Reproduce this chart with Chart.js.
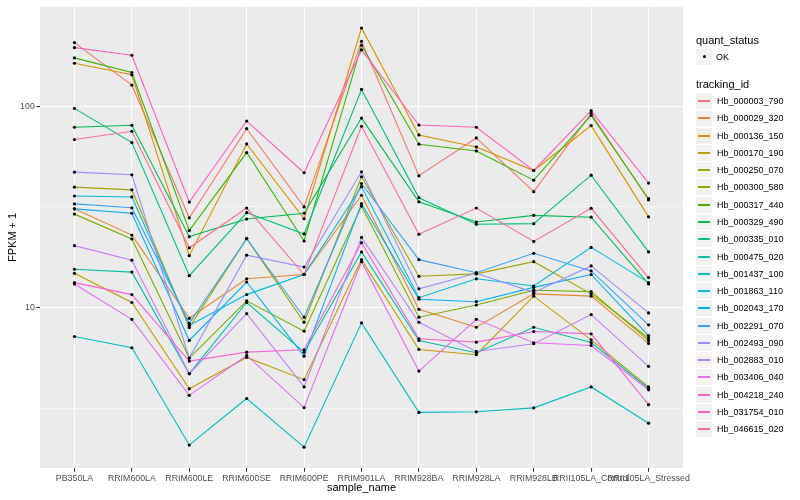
<!DOCTYPE html>
<html>
<head>
<meta charset="utf-8">
<script src="https://cdn.jsdelivr.net/npm/chart.js@4.4.1/dist/chart.umd.min.js"></script>
<style>
  body { margin: 0; background: #fff; }
  #wrap { position: relative; width: 800px; height: 500px; font-family: "Liberation Sans", Arial, sans-serif; color: #000; }
  #legend div { position: absolute; white-space: nowrap; }
  .ttl { font-size: 11px; line-height: 12px; }
  .key { width: 16px; height: 16px; background: #f2f2f2; }
  .lab { font-size: 9px; line-height: 10px; }
</style>
</head>
<body>
<div id="wrap">
  <canvas id="chart" width="800" height="500"></canvas>
  <div id="legend"></div>
</div>
<script>
// sample names on the x axis
const samples = ['PB350LA', 'RRIM600LA', 'RRIM600LE', 'RRIM600SE', 'RRIM600PE', 'RRIM901LA',
  'RRIM928BA', 'RRIM928LA', 'RRIM928LB', 'RRII105LA_Control', 'RRII105LA_Stressed'];

const trackingIds = ['Hb_000003_790', 'Hb_000029_320', 'Hb_000136_150', 'Hb_000170_190', 'Hb_000250_070',
  'Hb_000300_580', 'Hb_000317_440', 'Hb_000329_490', 'Hb_000335_010', 'Hb_000475_020',
  'Hb_001437_100', 'Hb_001863_110', 'Hb_002043_170', 'Hb_002291_070', 'Hb_002493_090',
  'Hb_002883_010', 'Hb_003406_040', 'Hb_004218_240', 'Hb_031754_010', 'Hb_046615_020'];

// FPKM + 1 per sample
const Hb_000003_790 = [206.5, 127, 27.9, 77.3, 31.6, 209.6, 45.1, 69.5, 37.6, 92.0, 34.2];
const Hb_000029_320 = [30.9, 22.9, 8.85, 13.9, 14.6, 36.1, 9.81, 7.99, 11.7, 11.4, 6.64];
const Hb_000136_150 = [163.1, 143, 18.1, 64.9, 27.6, 244, 71.9, 62.7, 47.9, 80.0, 28.2];
const Hb_000170_190 = [14.8, 10.6, 3.96, 5.66, 4.39, 17.3, 6.20, 5.84, 11.4, 6.92, 4.04];
const Hb_000250_070 = [39.6, 38.4, 7.96, 22.0, 8.46, 44.6, 14.3, 14.7, 16.9, 11.7, 7.07];
const Hb_000300_580 = [29.1, 21.9, 5.62, 10.8, 7.64, 31.9, 8.96, 10.3, 12.2, 12.0, 6.87];
const Hb_000317_440 = [173.5, 146.7, 24.1, 58.8, 21.4, 200.2, 64.7, 59.9, 42.9, 89.9, 34.7];
const Hb_000329_490 = [78.5, 80.3, 22.5, 27.5, 29.4, 87.2, 33.5, 26.6, 28.7, 28.1, 13.1];
const Hb_000335_010 = [97.4, 65.9, 14.4, 29.6, 23.2, 120.9, 35.1, 25.9, 26.1, 45.4, 18.9];
const Hb_000475_020 = [15.5, 15.0, 4.70, 10.6, 6.01, 18.9, 6.87, 5.97, 7.99, 6.71, 3.98];
const Hb_001437_100 = [7.19, 6.32, 2.08, 3.54, 2.03, 8.40, 3.02, 3.04, 3.18, 4.04, 2.67];
const Hb_001863_110 = [35.8, 35.4, 8.15, 11.6, 14.6, 39.8, 11.2, 13.9, 12.8, 19.9, 13.3];
const Hb_002043_170 = [30.9, 29.4, 6.87, 13.4, 5.74, 32.8, 11.0, 10.7, 12.6, 14.6, 7.27];
const Hb_002291_070 = [32.7, 31.3, 8.36, 22.0, 8.96, 41.3, 17.3, 14.9, 18.6, 15.2, 8.21];
const Hb_002493_090 = [47.0, 45.6, 5.62, 18.2, 15.9, 47.2, 12.4, 14.8, 11.9, 16.1, 9.41];
const Hb_002883_010 = [20.3, 17.2, 4.70, 9.34, 4.04, 22.3, 8.46, 6.06, 6.62, 9.23, 5.11];
const Hb_003406_040 = [13.1, 8.75, 3.67, 5.79, 3.19, 16.9, 4.84, 8.75, 6.69, 6.49, 3.91];
const Hb_004218_240 = [13.3, 11.6, 5.43, 6.01, 6.18, 21.0, 7.00, 6.74, 7.61, 7.41, 3.30];
const Hb_031754_010 = [195, 178.7, 33.4, 84.3, 46.7, 190, 80.5, 78.5, 47.9, 94.9, 41.5];
const Hb_046615_020 = [68.2, 75.0, 19.8, 31.2, 14.6, 79.4, 23.1, 31.2, 21.3, 31.1, 14.1];

// y axis breaks (log10), labelled majors and unlabelled minors
const yMajor = [10, 100];
const yMinor = [3.1623, 31.623];

const series = [Hb_000003_790, Hb_000029_320, Hb_000136_150, Hb_000170_190, Hb_000250_070,
  Hb_000300_580, Hb_000317_440, Hb_000329_490, Hb_000335_010, Hb_000475_020,
  Hb_001437_100, Hb_001863_110, Hb_002043_170, Hb_002291_070, Hb_002493_090,
  Hb_002883_010, Hb_003406_040, Hb_004218_240, Hb_031754_010, Hb_046615_020];

// ggplot hue palette, 20 levels
const palette = ['#F8766D', '#EA8331', '#D89000', '#C09B00', '#A3A500', '#7CAE00', '#39B600', '#00BB4E',
  '#00BF7D', '#00C1A3', '#00BFC4', '#00BAE0', '#00B0F6', '#35A2FF', '#9590FF', '#C77CFF',
  '#E76BF3', '#FA62DB', '#FF62BC', '#FF6C91'];

const family = "'Liberation Sans', Arial, sans-serif";

const datasets = series.map((vals, i) => ({
  label: trackingIds[i],
  data: vals.map((v, j) => ({ x: j, y: v })),
  borderColor: palette[i],
  backgroundColor: palette[i],
  borderWidth: 1.1,
  pointRadius: 0,
  fill: false,
  tension: 0,
  order: series.length - i   // later ids drawn on top, like ggplot
}));

// all the points on top of every line
datasets.push({
  label: 'OK',
  data: series.flatMap(vals => vals.map((v, j) => ({ x: j, y: v }))),
  showLine: false,
  pointRadius: 1.6,
  pointBackgroundColor: '#000',
  pointBorderWidth: 0,
  order: 0
});

const panelBg = {
  id: 'panelBg',
  beforeDraw(chart) {
    const { ctx, chartArea: a } = chart;
    ctx.save();
    ctx.fillStyle = '#EBEBEB';
    ctx.fillRect(a.left, a.top, a.right - a.left, a.bottom - a.top);
    ctx.restore();
  }
};

const isMajor = v => yMajor.includes(v);

new Chart(document.getElementById('chart'), {
  type: 'line',
  data: { datasets: datasets },
  options: {
    responsive: false,
    animation: false,
    layout: { padding: { top: 5, right: 117, left: 0, bottom: 0 } },
    plugins: {
      legend: { display: false },
      tooltip: { enabled: false }
    },
    scales: {
      x: {
        type: 'linear',
        min: -0.6,
        max: samples.length - 0.4,
        afterBuildTicks: s => { s.ticks = samples.map((_, i) => ({ value: i })); },
        afterFit: s => { s.height = 32; },
        ticks: {
          callback: v => samples[v],
          autoSkip: false,
          maxRotation: 0,
          minRotation: 0,
          padding: 1.6,
          color: '#4D4D4D',
          font: { size: 8.8, family: family }
        },
        grid: { color: '#FFFFFF', lineWidth: 1.07, tickColor: '#333333', tickLength: 3.7 },
        border: { display: false },
        title: {
          display: true,
          text: 'sample_name',
          color: '#000',
          font: { size: 11, family: family },
          padding: { top: 0, bottom: 5 }
        }
      },
      y: {
        type: 'logarithmic',
        min: 1.6,
        max: 311,
        afterBuildTicks: s => { s.ticks = yMinor.concat(yMajor).sort((a, b) => a - b).map(v => ({ value: v })); },
        afterFit: s => { s.width = 40; },
        ticks: {
          callback: v => isMajor(v) ? String(v) : '',
          padding: 1.5,
          color: '#4D4D4D',
          font: { size: 8.8, family: family }
        },
        grid: {
          color: '#FFFFFF',
          lineWidth: c => isMajor(c.tick.value) ? 1.07 : 0.53,
          tickColor: c => isMajor(c.tick.value) ? '#333333' : 'rgba(0,0,0,0)',
          tickLength: 3.7
        },
        border: { display: false },
        title: {
          display: true,
          text: 'FPKM + 1',
          color: '#000',
          font: { size: 11, family: family },
          padding: { top: 6, bottom: 0 }
        }
      }
    }
  },
  plugins: [panelBg]
});

// legend, ggplot style
const legend = document.getElementById('legend');
function add(cls, left, top, text, css) {
  const d = document.createElement('div');
  d.className = cls;
  d.style.left = left + 'px';
  d.style.top = top + 'px';
  if (text) d.textContent = text;
  if (css) Object.assign(d.style, css);
  legend.appendChild(d);
  return d;
}
add('ttl', 696, 34, 'quant_status');
add('key', 696, 49);
add('', 703, 55, '', { width: '3px', height: '3px', borderRadius: '50%', background: '#000' });
add('lab', 716, 52, 'OK');
add('ttl', 696, 78, 'tracking_id');
trackingIds.forEach((id, i) => {
  const cy = Math.round(101 + i * 17.28);
  add('key', 696, cy - 8);
  add('', 698, cy - 1, '', { width: '12px', height: '2px', background: palette[i] });
  add('lab', 717, cy - 5, id);
});
</script>
</body>
</html>
